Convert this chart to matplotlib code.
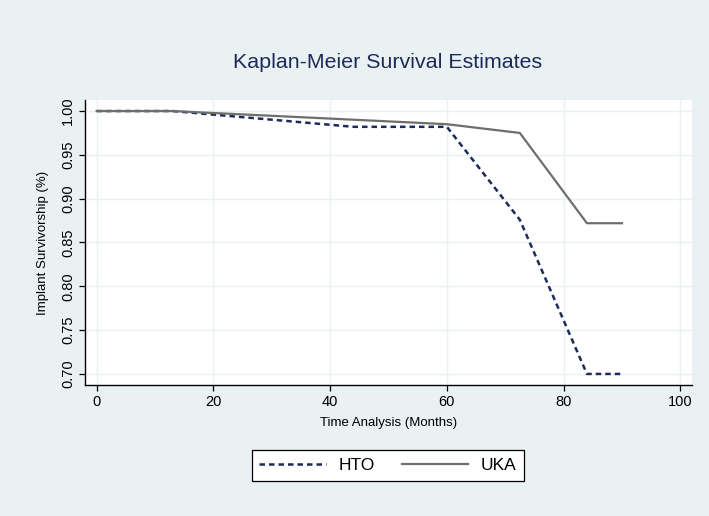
import matplotlib
matplotlib.use("Agg")
import matplotlib.pyplot as plt

plt.rcParams['font.family'] = ['Liberation Sans', 'DejaVu Sans']

# survival curves
hto_time = [0, 13, 44, 60, 72.5, 84, 90]
hto_surv = [1.0, 1.0, 0.982, 0.982, 0.876, 0.700, 0.700]

uka_time = [0, 13, 60, 72.5, 84, 90]
uka_surv = [1.0, 1.0, 0.985, 0.975, 0.872, 0.872]

x_ticks = [0, 20, 40, 60, 80, 100]
y_ticks = [0.70, 0.75, 0.80, 0.85, 0.90, 0.95, 1.00]

bg = '#eaf1f3'
grid_col = '#eaf1f3'
navy = '#1c2b5a'
gray = '#6e6e6e'

fig = plt.figure(figsize=(7.09, 5.16), dpi=100, facecolor=bg)
ax = fig.add_axes([0.1199, 0.2539, 0.976 - 0.1199, 0.8062 - 0.2539])
ax.set_facecolor('white')

ax.plot(hto_time, hto_surv, color=navy, lw=1.8, linestyle=(0, (2.2, 1.6)), label='HTO')
ax.plot(uka_time, uka_surv, color=gray, lw=1.6, label='UKA')

ax.set_xlim(-2, 102)
ax.set_ylim(0.6874, 1.0126)
ax.set_xticks(x_ticks)
ax.set_yticks(y_ticks)
ax.set_yticklabels(['%.2f' % v for v in y_ticks], rotation=90, va='center')
ax.grid(True, color=grid_col, lw=1.0)
ax.set_axisbelow(True)

for s in ['top', 'right']:
    ax.spines[s].set_visible(False)
for s in ['left', 'bottom']:
    ax.spines[s].set_color('black')
    ax.spines[s].set_linewidth(1.0)

ax.tick_params(axis='both', direction='out', length=4, width=0.9, labelsize=10.5, pad=3)
ax.set_xlabel('Time Analysis (Months)', fontsize=9.5, labelpad=6)
ax.set_ylabel('Implant Survivorship (%)', fontsize=9.5, labelpad=9)

fig.text(0.547, 0.878, 'Kaplan-Meier Survival Estimates', ha='center', va='center',
         fontsize=15.4, color=navy)

leg = fig.legend(loc='center', bbox_to_anchor=(0.547, 0.098), ncol=2, fontsize=12.5,
                 frameon=True, fancybox=False, handlelength=3.85, columnspacing=1.55,
                 handletextpad=0.7, borderpad=0.45)
leg.get_frame().set_edgecolor('black')
leg.get_frame().set_linewidth(0.9)
leg.get_frame().set_facecolor('white')
leg.get_frame().set_alpha(1)

fig.savefig('out.png', dpi=100, facecolor=bg)
